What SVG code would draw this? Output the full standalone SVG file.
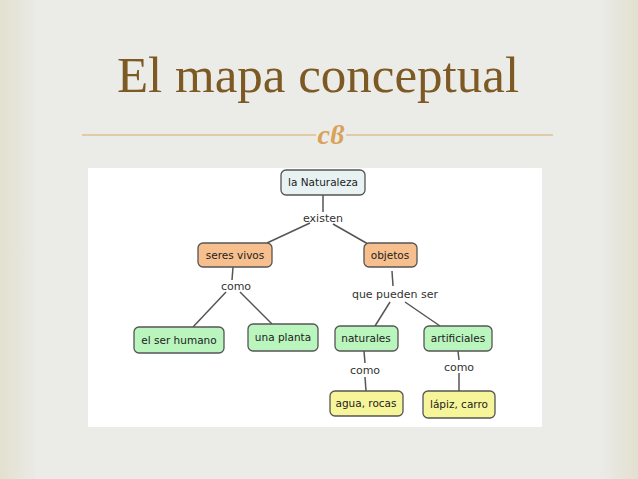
<svg xmlns="http://www.w3.org/2000/svg" width="638" height="479" viewBox="0 0 638 479">
<defs>
<linearGradient id="bg" x1="0" x2="1" y1="0" y2="0">
<stop offset="0" stop-color="#e2e0cf"/><stop offset="0.06" stop-color="#ebebe8"/><stop offset="0.94" stop-color="#ebebe8"/><stop offset="1" stop-color="#e2e0cf"/>
</linearGradient>
<style>
.n rect{stroke:#555;stroke-width:1.3}
.n text{font-family:"DejaVu Sans",sans-serif;font-size:10.5px;fill:#222;text-anchor:middle}
.b rect{fill:#e8f2f3}.o rect{fill:#f7bf8e}.g rect{fill:#b9f5bd}.y rect{fill:#f7f59a}
.l{font-family:"DejaVu Sans",sans-serif;font-size:11px;fill:#333;text-anchor:middle}
#edges line{stroke:#555;stroke-width:1.5}
</style>
</defs>
<rect width="638" height="479" fill="url(#bg)"/>
<text x="318" y="92" font-family="Liberation Serif,serif" font-size="51" fill="#7d5a23" text-anchor="middle">El mapa conceptual</text>
<line x1="82" y1="135" x2="553" y2="135" stroke="#d9aa6a" stroke-width="1"/>
<rect x="316" y="122" width="30" height="24" fill="#ebebe8"/>
<text x="331" y="144" font-family="Liberation Serif,serif" font-style="italic" font-weight="bold" font-size="28" fill="#d9a259" text-anchor="middle">cϐ</text>
<rect x="88" y="168" width="454" height="259" fill="#ffffff"/>
<g id="edges">
<line x1="323" y1="195" x2="323" y2="212"/>
<line x1="310" y1="223" x2="267" y2="243"/>
<line x1="333" y1="224" x2="368" y2="244"/>
<line x1="233" y1="267" x2="232" y2="280"/>
<line x1="226" y1="292" x2="193" y2="327"/>
<line x1="240" y1="292" x2="272" y2="324"/>
<line x1="392" y1="271" x2="393" y2="286"/>
<line x1="390" y1="302" x2="375" y2="326"/>
<line x1="405" y1="302" x2="440" y2="326"/>
<line x1="364" y1="351" x2="365" y2="363"/>
<line x1="365" y1="377" x2="366" y2="391"/>
<line x1="458" y1="351" x2="459" y2="360"/>
<line x1="459" y1="373" x2="459" y2="391"/>
</g>
<g id="labels">
<text class="l" x="323" y="222">existen</text>
<text class="l" x="236" y="290">como</text>
<text class="l" x="395" y="298">que pueden ser</text>
<text class="l" x="365" y="374">como</text>
<text class="l" x="459" y="371">como</text>
</g>
<g id="n1" class="n b"><rect x="281" y="170" width="84" height="25" rx="5"/><text x="323" y="186">la Naturaleza</text></g>
<g id="n2" class="n o"><rect x="198" y="243" width="74" height="24" rx="5"/><text x="235" y="259">seres vivos</text></g>
<g id="n3" class="n o"><rect x="364" y="243" width="53" height="24" rx="5"/><text x="390" y="259">objetos</text></g>
<g id="n4" class="n g"><rect x="134" y="327" width="90" height="26" rx="5"/><text x="179" y="344">el ser humano</text></g>
<g id="n5" class="n g"><rect x="248" y="324" width="70" height="27" rx="5"/><text x="283" y="341">una planta</text></g>
<g id="n6" class="n g"><rect x="335" y="326" width="63" height="25" rx="5"/><text x="366" y="342">naturales</text></g>
<g id="n7" class="n g"><rect x="424" y="326" width="68" height="25" rx="5"/><text x="458" y="342">artificiales</text></g>
<g id="n8" class="n y"><rect x="330" y="391" width="73" height="25" rx="5"/><text x="366" y="407">agua, rocas</text></g>
<g id="n9" class="n y"><rect x="423" y="391" width="72" height="27" rx="5"/><text x="459" y="408">lápiz, carro</text></g>
</svg>
